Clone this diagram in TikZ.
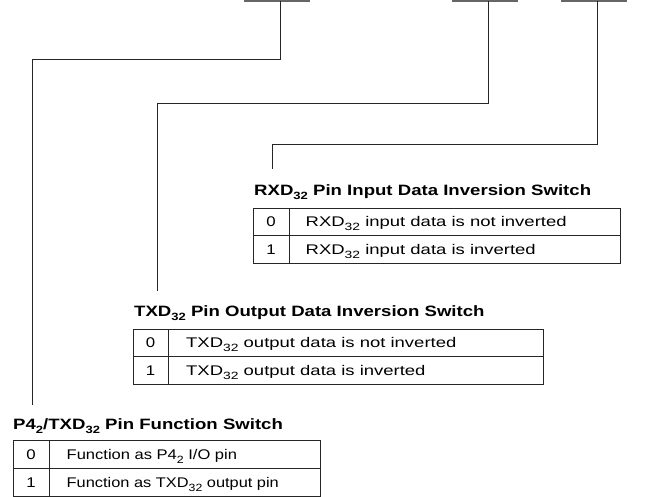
\documentclass[tikz,border=0pt]{standalone}
\usepackage{fontspec}
\setmainfont{Liberation Sans}
\newcommand{\sub}[1]{\raisebox{-4pt}{\fontsize{10.5}{10.5}\selectfont #1}}
\newcommand{\ttltext}[1]{\scalebox{1.24}[1]{\fontsize{15}{17}\selectfont\bfseries #1}}
\newcommand{\celltext}[2][1.2]{\scalebox{#1}[1]{\fontsize{14}{16}\selectfont #2}}
\tikzset{
  x=1pt, y=-1pt,
  wire/.style={draw=black!85, line width=1pt},
  bar/.style={draw=black!60, line width=1.2pt},
  grid/.style={draw=black!85, line width=1pt},
  ttl/.style={anchor=base west, inner sep=0pt},
  cell/.style={anchor=base west, inner sep=0pt},
  digit/.style={anchor=base, inner sep=0pt},
}
\begin{document}
\begin{tikzpicture}
\useasboundingbox (0,0) rectangle (660,497);

% top bars
\coordinate (b1) at (280,1);
\coordinate (b2) at (488,1);
\coordinate (b3) at (597,1);
\draw[bar] (244,1) -- (b1) -- (310,1);
\draw[bar] (452,1) -- (b2) -- (518,1);
\draw[bar] (561,1) -- (b3) -- (627,1);

% connector ends
\coordinate (e1) at (32,405);
\coordinate (e2) at (157,291);
\coordinate (e3) at (272,169);

\draw[wire] (b1) -- (280,60) -| (e1);
\draw[wire] (b2) -- (488,104) -| (e2);
\draw[wire] (b3) -- (597,145) -| (e3);

% RXD table
\node[ttl] (t3) at (254,195) {\ttltext{RXD\sub{32} Pin Input Data Inversion Switch}};
\draw[grid] (253,208) rectangle (620,263);
\draw[grid] (253,235) -- (620,235);
\draw[grid] (289,208) -- (289,263);
\node[digit] (r3a) at (271,226.5) {\celltext{0}};
\node[cell] (r3b) at (305.5,226.5) {\celltext[1.32]{RXD\sub{32} input data is not inverted}};
\node[digit] (r3c) at (271,254) {\celltext{1}};
\node[cell] (r3d) at (305.5,254) {\celltext[1.32]{RXD\sub{32} input data is inverted}};

% TXD table
\node[ttl] (t2) at (134,316) {\ttltext{TXD\sub{32} Pin Output Data Inversion Switch}};
\draw[grid] (133,329) rectangle (543,384);
\draw[grid] (133,356.5) -- (543,356.5);
\draw[grid] (168,329) -- (168,384);
\node[digit] (r2a) at (150.5,347.5) {\celltext{0}};
\node[cell] (r2b) at (186,347.5) {\celltext[1.32]{TXD\sub{32} output data is not inverted}};
\node[digit] (r2c) at (150.5,375) {\celltext{1}};
\node[cell] (r2d) at (186,375) {\celltext[1.32]{TXD\sub{32} output data is inverted}};

% P4 table
\node[ttl] (t1) at (13,429) {\ttltext{P4\sub{2}/TXD\sub{32} Pin Function Switch}};
\draw[grid] (13,440) rectangle (320,496);
\draw[grid] (13,468) -- (320,468);
\draw[grid] (49,440) -- (49,496);
\node[digit] (r1a) at (31,459) {\celltext{0}};
\node[cell] (r1b) at (66.5,459) {\celltext[1.18]{Function as P4\sub{2} I/O pin}};
\node[digit] (r1c) at (31,487) {\celltext{1}};
\node[cell] (r1d) at (66.5,487) {\celltext[1.17]{Function as TXD\sub{32} output pin}};
\end{tikzpicture}
\end{document}
